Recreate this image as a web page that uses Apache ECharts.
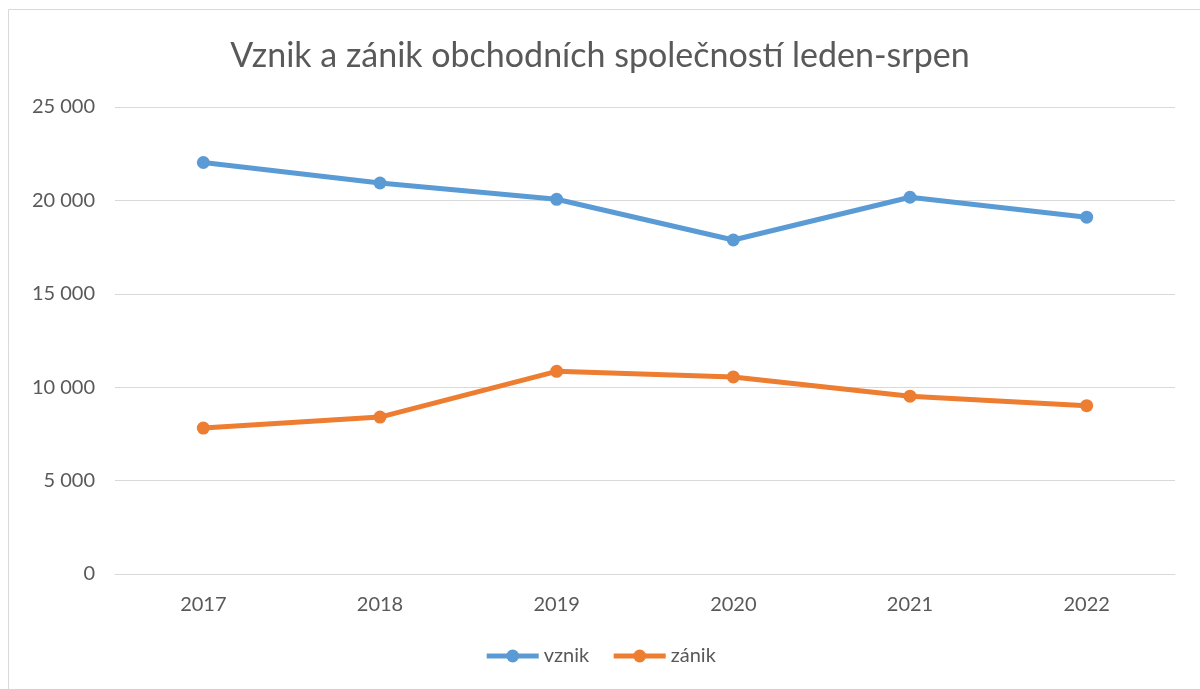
<!DOCTYPE html>
<html>
<head>
<meta charset="utf-8">
<title>Vznik a zánik obchodních společností</title>
<script src="https://cdn.jsdelivr.net/npm/echarts@6/dist/echarts.min.js"></script>
<style>
html, body { margin: 0; padding: 0; background: #fff; }
#container { width: 1200px; height: 689px; }
</style>
</head>
<body>
<div id="container"></div>
<script type="text/javascript">
// data
var years = ['2017', '2018', '2019', '2020', '2021', '2022'];
var vznik = [22030, 20930, 20060, 17880, 20170, 19100];
var zanik = [7810, 8400, 10850, 10550, 9520, 9010];
var seriesNames = ['vznik', 'zánik'];

var textColor = '#595959';
var gridColor = '#d9d9d9';
var fontName = 'Lato';

function fmt(v) {
	// 25000 -> "25 000"
	return String(v).replace(/\B(?=(\d{3})+(?!\d))/g, ' ');
}

var myChart = echarts.init(document.getElementById('container'));

var option = {
	backgroundColor: '#fff',
	animation: false,
	textStyle: { fontFamily: fontName, color: textColor },
	graphic: [{
		type: 'rect',
		shape: { x: 8.5, y: 9.5, width: 1200, height: 700 },
		style: { fill: 'none', stroke: gridColor, lineWidth: 1 }
	}],
	title: {
		text: 'Vznik a zánik obchodních společností leden-srpen',
		left: 'center',
		top: 34,
		textStyle: { fontFamily: fontName, fontSize: 34, fontWeight: 'normal', color: textColor }
	},
	legend: {
		data: seriesNames,
		bottom: 18,
		left: 'center',
		itemWidth: 52,
		itemHeight: 16,
		itemGap: 22,
		lineStyle: { width: 5 },
		textStyle: { fontFamily: fontName, fontSize: 20, color: textColor }
	},
	grid: { left: 115, right: 25, top: 107, bottom: 115 },
	xAxis: {
		type: 'category',
		data: years,
		boundaryGap: true,
		axisLine: { lineStyle: { color: gridColor, width: 1 } },
		axisTick: { show: false },
		axisLabel: { fontFamily: fontName, fontSize: 20, color: textColor, margin: 21 }
	},
	yAxis: {
		type: 'value',
		min: 0,
		max: 25000,
		interval: 5000,
		axisLine: { show: false },
		axisTick: { show: false },
		splitLine: { lineStyle: { color: gridColor, width: 1 } },
		axisLabel: {
			fontFamily: fontName, fontSize: 20, color: textColor, margin: 20,
			formatter: fmt
		}
	},
	series: [{
		name: seriesNames[0],
		type: 'line',
		data: vznik,
		color: '#5B9BD5',
		symbol: 'circle',
		symbolSize: 13,
		lineStyle: { width: 5 }
	}, {
		name: seriesNames[1],
		type: 'line',
		data: zanik,
		color: '#ED7D31',
		symbol: 'circle',
		symbolSize: 13,
		lineStyle: { width: 5 }
	}]
};

myChart.setOption(option, true);
</script>
</body>
</html>
